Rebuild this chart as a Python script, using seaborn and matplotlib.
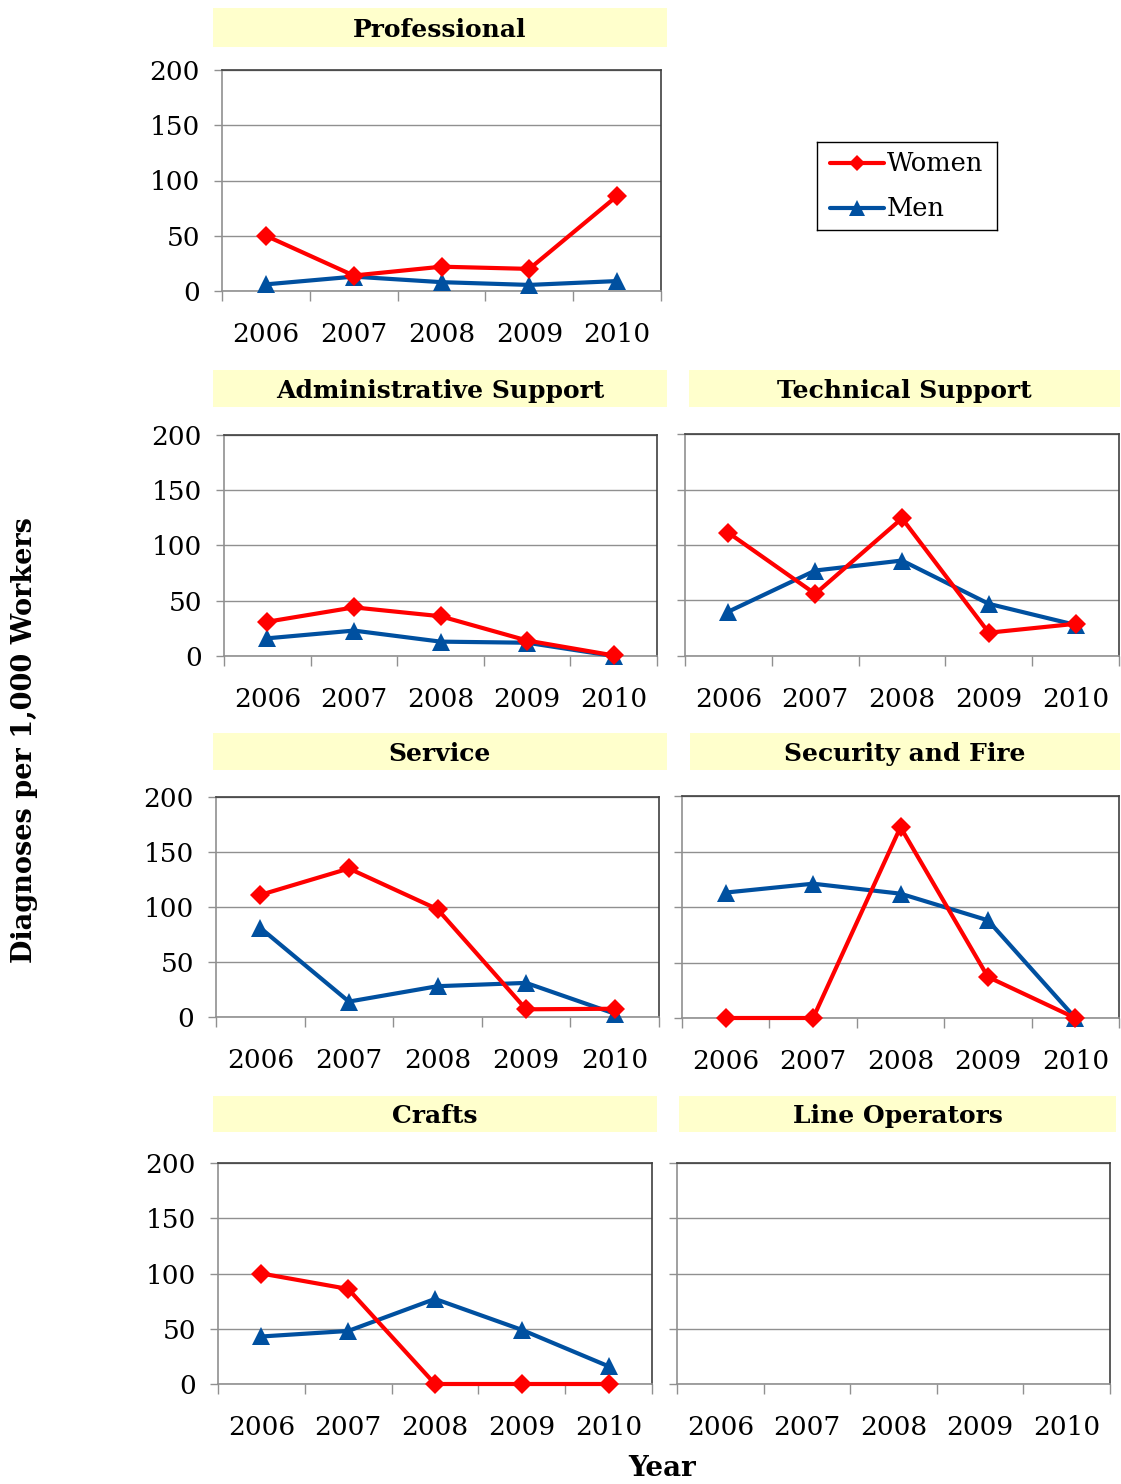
#!/usr/bin/env python3

import pandas as pd
import matplotlib
matplotlib.use('Agg')
import matplotlib.pyplot as plt
from matplotlib.ticker import FixedLocator
import seaborn as sns

# data (diagnoses per 1,000 workers)
years = ['2006', '2007', '2008', '2009', '2010']
panels = ['Professional', 'Administrative Support', 'Technical Support',
          'Service', 'Security and Fire', 'Crafts', 'Line Operators']

women_professional = [50, 14, 22, 20, 86]
men_professional = [6, 13, 8, 5.5, 9]
women_admin = [31, 44, 36, 14, 0.5]
men_admin = [16, 23, 13, 12, 0]
women_technical = [111, 56, 124, 21, 29]
men_technical = [40, 77, 86, 47, 28]
women_service = [111, 135, 98, 7, 7.5]
men_service = [81, 14, 28, 31, 3]
women_security = [0, 0, 172, 37, 0]
men_security = [113, 121, 112, 88, 0]
women_crafts = [100, 86, 0, 0, 0]
men_crafts = [43, 48, 77, 49, 16]
women_line = []
men_line = []

series = {
    'Professional': (women_professional, men_professional),
    'Administrative Support': (women_admin, men_admin),
    'Technical Support': (women_technical, men_technical),
    'Service': (women_service, men_service),
    'Security and Fire': (women_security, men_security),
    'Crafts': (women_crafts, men_crafts),
    'Line Operators': (women_line, men_line),
}

rows = []
for name, (w, m) in series.items():
    for i, v in enumerate(w):
        rows.append({'panel': name, 'year': years[i], 'x': i, 'sex': 'Women', 'rate': v})
    for i, v in enumerate(m):
        rows.append({'panel': name, 'year': years[i], 'x': i, 'sex': 'Men', 'rate': v})
df = pd.DataFrame(rows)

sns.set_theme(style='white')
plt.rcParams['font.family'] = ['DejaVu Serif']
plt.rcParams['text.color'] = 'black'
plt.rcParams['xtick.color'] = 'black'
plt.rcParams['ytick.color'] = 'black'
plt.rcParams['xtick.labelcolor'] = 'black'
plt.rcParams['ytick.labelcolor'] = 'black'

W, H = 1121, 1484
fig = plt.figure(figsize=(W / 100, H / 100), dpi=100)

# pixel boxes: axes (left, top, right, bottom), title band (left, top, right, bottom)
layout = {
    'Professional': ((222, 70, 661, 291), (213, 8, 667, 47), True),
    'Administrative Support': ((224, 435, 657, 656), (213, 370, 667, 407), True),
    'Technical Support': ((685, 434, 1119, 656), (689, 370, 1120, 407), False),
    'Service': ((216, 797, 659, 1017), (213, 733, 667, 770), True),
    'Security and Fire': ((682, 796, 1119, 1018), (690, 733, 1120, 770), False),
    'Crafts': ((218, 1163, 652, 1384), (213, 1096, 657, 1132), True),
    'Line Operators': ((677, 1163, 1110, 1384), (679, 1096, 1116, 1132), False),
}

colors = {'Women': '#FF0000', 'Men': '#0050A0'}
markers = {'Women': 'D', 'Men': '^'}
msizes = {'Women': 10.5, 'Men': 13}


def px_rect(box):
    x0, y0, x1, y1 = box
    return [x0 / W, 1 - y1 / H, (x1 - x0) / W, (y1 - y0) / H]


for name in panels:
    abox, tbox, show_y = layout[name]

    # yellow title band
    tax = fig.add_axes(px_rect(tbox))
    tax.set_facecolor('#FFFFCC')
    tax.set_xticks([])
    tax.set_yticks([])
    for s in tax.spines.values():
        s.set_visible(False)
    tax.text(0.5, 0.44, name, ha='center', va='center', fontsize=18,
             fontweight='bold', transform=tax.transAxes)

    ax = fig.add_axes(px_rect(abox))
    sub = df[df['panel'] == name]
    if len(sub):
        for sex in ['Men', 'Women']:
            d = sub[sub['sex'] == sex]
            sns.lineplot(data=d, x='x', y='rate', ax=ax, color=colors[sex],
                         marker=markers[sex], linewidth=3,
                         markersize=msizes[sex], clip_on=False,
                         markeredgewidth=0, legend=False, zorder=3)

    ax.set_xlim(-0.5, 4.5)
    ax.set_ylim(0, 200)
    ax.set_xlabel('')
    ax.set_ylabel('')
    ax.xaxis.set_major_locator(FixedLocator(range(len(years))))
    ax.set_xticklabels(years)
    ax.xaxis.set_minor_locator(FixedLocator([i - 0.5 for i in range(len(years) + 1)]))
    ax.tick_params(axis='x', which='major', length=0, pad=22, labelsize=19)
    ax.tick_params(axis='x', which='minor', length=7, width=1, color='#909090',
                   direction='out', bottom=True)
    ax.set_yticks([0, 50, 100, 150, 200])
    ax.tick_params(axis='y', length=6, width=1, color='#909090', direction='out',
                   left=True, labelsize=19, pad=10, labelleft=show_y)
    ax.grid(axis='y', color='#909090', linewidth=1)
    ax.set_axisbelow(True)
    ax.spines['left'].set_color('#909090')
    ax.spines['bottom'].set_color('#909090')
    ax.spines['top'].set_color('#404040')
    ax.spines['right'].set_color('#404040')
    for s in ax.spines.values():
        s.set_linewidth(1.2)
        s.set_visible(True)

# legend in the empty top-right slot
lax = fig.add_axes(px_rect((817, 142, 997, 230)))
lax.set_xticks([])
lax.set_yticks([])
for s in lax.spines.values():
    s.set_color('black')
    s.set_linewidth(1)
for sex, yy in [('Women', 0.76), ('Men', 0.25)]:
    lax.plot([0.07, 0.37], [yy, yy], color=colors[sex], linewidth=3,
             solid_capstyle='round')
    lax.plot([0.22], [yy], color=colors[sex], marker=markers[sex],
             markersize=msizes[sex] - 2, markeredgewidth=0)
    lax.text(0.39, yy, sex, va='center', ha='left', fontsize=18.5)
lax.set_xlim(0, 1)
lax.set_ylim(0, 1)

fig.text(25 / W, 1 - 740 / H, 'Diagnoses per 1,000 Workers', rotation=90,
         ha='center', va='center', fontsize=19.5, fontweight='bold')
fig.text(662 / W, 1 - 1469 / H, 'Year', ha='center', va='center',
         fontsize=20, fontweight='bold')

fig.savefig('out.png', dpi=100)
plt.close(fig)
